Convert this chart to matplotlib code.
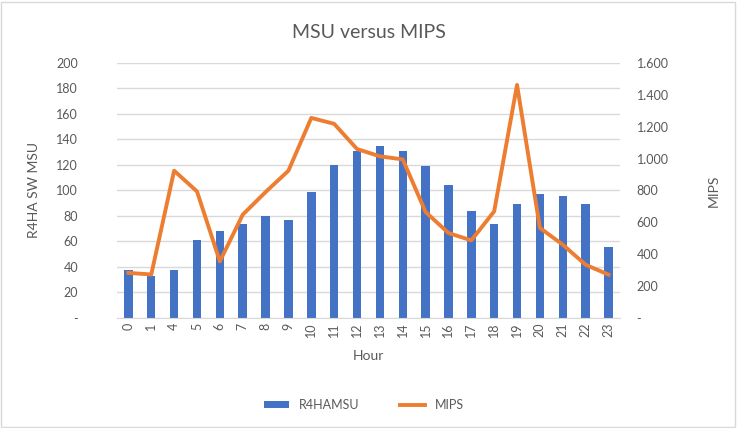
import matplotlib.pyplot as plt
from matplotlib.ticker import FuncFormatter
from matplotlib.patches import Rectangle

plt.rcParams['font.family'] = ['Lato', 'DejaVu Sans']

# dados
horas = ["0", "1", "4", "5", "6", "7", "8", "9", "10", "11", "12", "13",
         "14", "15", "16", "17", "18", "19", "20", "21", "22", "23"]
msu = [38, 33, 38, 61, 68, 74, 80, 77, 99, 120, 131, 135,
       131, 119, 104, 84, 74, 89, 97, 96, 89, 56]
mips = [283, 273, 924, 794, 355, 648, 790, 924, 1255, 1218, 1060, 1014,
        995, 665, 533, 487, 669, 1462, 565, 460, 334, 272]

cinza = "#595959"
x = range(len(horas))

fig = plt.figure(figsize=(7.38, 4.28), dpi=100)
ax = fig.add_axes([0.1585, 0.257, 0.6815, 0.596])
ax2 = ax.twinx()

ax.bar(x, msu, width=0.37, color="#4472C4", label="R4HAMSU", zorder=2)
ax2.plot(x, mips, color="#ED7D31", linewidth=2.8, label="MIPS", zorder=3)

ax.set_ylim(0, 200)
ax.set_yticks(range(0, 201, 20))
ax2.set_ylim(0, 1600)
ax2.set_yticks(range(0, 1601, 200))
ax.set_xlim(-0.5, len(horas) - 0.5)
ax.set_xticks(list(x))
ax.set_xticklabels(horas, rotation=90)

ax.yaxis.set_major_formatter(FuncFormatter(lambda v, p: "-" if v == 0 else f"{int(v)}"))
ax2.yaxis.set_major_formatter(
    FuncFormatter(lambda v, p: "-" if v == 0 else f"{int(v):,}".replace(",", ".")))

ax.grid(axis="y", color="#D9D9D9", linewidth=1, zorder=0)
ax.set_axisbelow(True)
for a in (ax, ax2):
    for s in a.spines.values():
        s.set_visible(False)
    a.tick_params(length=0, colors=cinza, labelsize=9)
ax.spines["bottom"].set_visible(True)
ax.spines["bottom"].set_color("#D9D9D9")
ax.tick_params(axis="y", pad=28)
ax2.tick_params(axis="y", pad=12)

ax.set_xlabel("Hour", color=cinza, fontsize=10, labelpad=9)
ax.set_ylabel("R4HA SW MSU", color=cinza, fontsize=10, labelpad=12)
ax2.set_ylabel("MIPS", color=cinza, fontsize=10, labelpad=28)

fig.text(0.5, 0.925, "MSU versus MIPS", ha="center", va="center",
         color=cinza, fontsize=14)

h1, l1 = ax.get_legend_handles_labels()
h2, l2 = ax2.get_legend_handles_labels()
fig.legend(h1 + h2, l1 + l2, loc="center", bbox_to_anchor=(0.493, 0.054),
           ncol=2, frameon=False, fontsize=9, labelcolor=cinza,
           handlelength=2.0, handleheight=0.5, columnspacing=3.2)

# moldura clara ao redor
fig.patches.append(Rectangle((0.002, 0.002), 0.994, 0.994, transform=fig.transFigure,
                             fill=False, edgecolor="#D9D9D9", linewidth=1))

plt.savefig("out.png", dpi=100)
